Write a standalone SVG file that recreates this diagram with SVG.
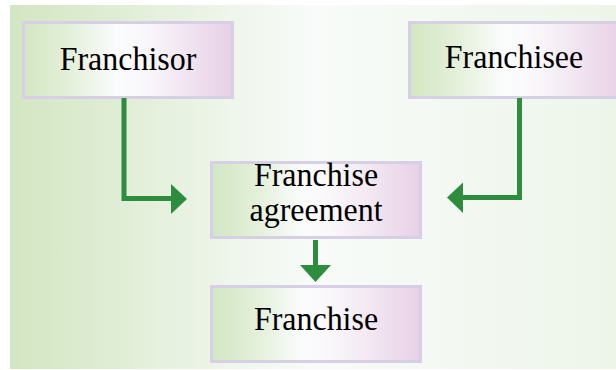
<svg xmlns="http://www.w3.org/2000/svg" width="616" height="370" viewBox="0 0 616 370">
<defs>
<linearGradient id="bg" x1="0" y1="0" x2="1" y2="0">
<stop offset="0" stop-color="#d3e6c2"/>
<stop offset="0.5" stop-color="#f8fbf9"/>
<stop offset="1" stop-color="#edf5e9"/>
</linearGradient>
<linearGradient id="box" x1="0" y1="0" x2="1" y2="0">
<stop offset="0" stop-color="#d2e7c2"/>
<stop offset="0.22" stop-color="#e4f0da"/>
<stop offset="0.45" stop-color="#fbfcfe"/>
<stop offset="0.6" stop-color="#f9f6fa"/>
<stop offset="1" stop-color="#e8d0e6"/>
</linearGradient>
<style>
.box{fill:url(#box);stroke:#d6cfe6;stroke-width:3}
.lbl{font-family:"Liberation Serif","Times New Roman",serif;font-size:34px;fill:#000;text-anchor:middle}
.wire{fill:none;stroke:#2e8c3f;stroke-width:5}
.head{fill:#2e8c3f}
</style>
</defs>
<rect x="10" y="5" width="606" height="364" fill="url(#bg)"/>
<g id="franchisor">
<rect class="box" x="23.5" y="22.5" width="209" height="75"/>
<text class="lbl" transform="translate(128,70) scale(0.94,1)">Franchisor</text>
</g>
<g id="franchisee">
<rect class="box" x="409.5" y="22.5" width="215" height="75"/>
<text class="lbl" transform="translate(514,68) scale(0.94,1)">Franchisee</text>
</g>
<g id="agreement">
<rect class="box" x="211.5" y="162.5" width="209" height="75"/>
<text class="lbl" transform="translate(316,186) scale(0.94,1)">Franchise</text>
<text class="lbl" transform="translate(316,221) scale(0.94,1)">agreement</text>
</g>
<g id="franchise">
<rect class="box" x="211.5" y="286.5" width="209" height="75"/>
<text class="lbl" transform="translate(316,330) scale(0.94,1)">Franchise</text>
</g>
<g id="connectors">
<polyline class="wire" points="124,98 124,198.5 172,198.5"/>
<polygon class="head" points="171,184 187,199 171,214"/>
<polyline class="wire" points="519.5,98 519.5,197.5 462,197.5"/>
<polygon class="head" points="463,182.5 447,197.5 463,213"/>
<line class="wire" x1="315.5" y1="240" x2="315.5" y2="266"/>
<polygon class="head" points="300,265 331,265 315.5,282"/>
</g>
</svg>
